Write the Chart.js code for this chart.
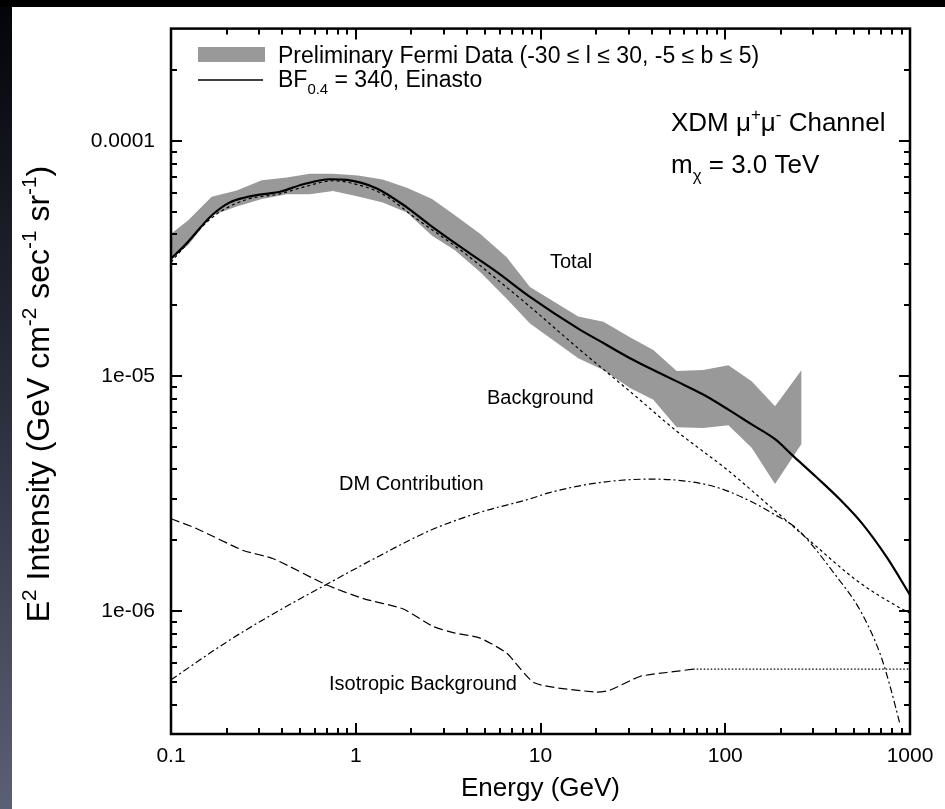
<!DOCTYPE html>
<html>
<head>
<meta charset="utf-8">
<script src="https://cdn.jsdelivr.net/npm/chart.js@4.4.1/dist/chart.umd.min.js"></script>
<style>
  html, body { margin: 0; padding: 0; background: #000; }
  #wrap { width: 945px; height: 809px; }
</style>
</head>
<body>
<div id="wrap"><canvas id="chart" width="945" height="809"></canvas></div>
<script>
const FONT = '"Liberation Sans", Arial, Helvetica, sans-serif';

// Preliminary Fermi data band (upper / lower edge)
const fermiE  = [0.1, 0.124, 0.166, 0.227, 0.310, 0.423, 0.565, 0.753, 1.03, 1.40, 1.89, 2.59, 3.44, 4.71, 6.56, 8.77, 16.0, 21.9, 30.5, 40.8, 54.6, 76.0, 104, 139, 186, 259];
const fermiHi = [4.02e-5, 4.59e-5, 5.78e-5, 6.15e-5, 6.80e-5, 6.98e-5, 7.25e-5, 7.25e-5, 7.11e-5, 6.84e-5, 6.32e-5, 5.65e-5, 4.82e-5, 4.02e-5, 3.20e-5, 2.39e-5, 1.79e-5, 1.70e-5, 1.46e-5, 1.29e-5, 1.05e-5, 1.06e-5, 1.11e-5, 9.48e-6, 7.43e-6, 1.06e-5];
const fermiLo = [3.15e-5, 3.60e-5, 4.81e-5, 5.26e-5, 5.65e-5, 5.93e-5, 5.93e-5, 6.12e-5, 5.80e-5, 5.47e-5, 4.96e-5, 3.95e-5, 3.42e-5, 2.77e-5, 2.13e-5, 1.67e-5, 1.19e-5, 1.06e-5, 8.88e-6, 7.92e-6, 6.05e-6, 6.01e-6, 6.17e-6, 4.95e-6, 3.47e-6, 5.15e-6];

// Total (BF = 340, Einasto)
const totalE = [0.1, 0.119, 0.166, 0.208, 0.252, 0.316, 0.389, 0.520, 0.726, 0.893, 1.30, 1.89, 2.52, 3.82, 5.79, 8.77, 16.0, 21.9, 30.5, 40.8, 54.6, 76.0, 104, 139, 186, 233, 314, 418, 550, 750, 1000];
const totalI = [3.15e-5, 3.6e-5, 4.81e-5, 5.47e-5, 5.74e-5, 5.93e-5, 6.07e-5, 6.53e-5, 6.86e-5, 6.82e-5, 6.27e-5, 5.21e-5, 4.38e-5, 3.47e-5, 2.77e-5, 2.17e-5, 1.59e-5, 1.38e-5, 1.19e-5, 1.06e-5, 9.48e-6, 8.33e-6, 7.19e-6, 6.22e-6, 5.38e-6, 4.57e-6, 3.69e-6, 2.98e-6, 2.36e-6, 1.69e-6, 1.17e-6];

// Background
const bgE = [0.1, 0.166, 0.252, 0.389, 0.52, 0.753, 1.03, 1.40, 2.14, 3.82, 6.04, 8.77, 16.0, 30.5, 54.6, 104, 186, 300, 514, 864, 1000];
const bgI = [3.05e-5, 4.7e-5, 5.6e-5, 5.95e-5, 6.35e-5, 6.76e-5, 6.5e-5, 5.93e-5, 4.65e-5, 3.36e-5, 2.51e-5, 1.97e-5, 1.31e-5, 8.59e-6, 5.82e-6, 3.95e-6, 2.67e-6, 1.93e-6, 1.35e-6, 1.04e-6, 9.8e-7];

// DM contribution
const dmE = [0.1, 0.208, 0.389, 0.697, 1.35, 2.52, 4.71, 8.77, 11.2, 21.0, 39.2, 59.3, 89.9, 136, 182, 244, 401, 536, 687, 780, 883];
const dmI = [5.1e-7, 7.53e-7, 1.01e-6, 1.30e-6, 1.72e-6, 2.20e-6, 2.63e-6, 3.0e-6, 3.19e-6, 3.52e-6, 3.64e-6, 3.58e-6, 3.36e-6, 2.94e-6, 2.59e-6, 2.24e-6, 1.40e-6, 1.01e-6, 6.62e-7, 4.79e-7, 3.3e-7];

// Isotropic background (measured, then flat extrapolation)
const isoE = [0.1, 0.138, 0.246, 0.358, 0.697, 1.10, 1.81, 2.63, 3.37, 4.71, 6.56, 9.33, 20.1, 23.8, 34.5, 48.2, 67.1];
const isoI = [2.47e-6, 2.24e-6, 1.81e-6, 1.67e-6, 1.29e-6, 1.13e-6, 1.02e-6, 8.59e-7, 8.10e-7, 7.67e-7, 6.62e-7, 4.94e-7, 4.52e-7, 4.61e-7, 5.27e-7, 5.48e-7, 5.66e-7];
const isoExtE = [67.1, 1000];
const isoExtI = [5.66e-7, 5.66e-7];

const xTicks = [0.1, 1, 10, 100, 1000];
const xTickLabels = ['0.1', '1', '10', '100', '1000'];
const yTicks = [1e-6, 1e-5, 1e-4];
const yTickLabels = ['1e-06', '1e-05', '0.0001'];

function pts(xs, ys) {
    return xs.map((x, i) => ({ x: x, y: ys[i] }));
}

function line(ctx, x1, y1, x2, y2) {
    ctx.beginPath();
    ctx.moveTo(x1, y1);
    ctx.lineTo(x2, y2);
    ctx.stroke();
}

// draws text made of normal / superscript / subscript pieces
function richText(ctx, x, y, parts, size, align) {
    const sizeOf = p => p[1] ? size * 0.65 : size;
    let w = 0;
    parts.forEach(p => {
        ctx.font = sizeOf(p) + 'px ' + FONT;
        w += ctx.measureText(p[0]).width;
    });
    let cx = align === 'center' ? x - w / 2 : x;
    parts.forEach(p => {
        ctx.font = sizeOf(p) + 'px ' + FONT;
        const dy = p[1] === 'sup' ? -size * 0.42 : p[1] === 'sub' ? size * 0.32 : 0;
        ctx.fillText(p[0], cx, y + dy);
        cx += ctx.measureText(p[0]).width;
    });
}

const decorations = {
    id: 'decorations',
    beforeDraw(chart) {
        const ctx = chart.ctx;
        const W = chart.width, H = chart.height;
        ctx.save();
        ctx.fillStyle = '#000';
        ctx.fillRect(0, 0, W, H);
        const g = ctx.createLinearGradient(0, 0, 0, H);
        g.addColorStop(0, '#030408');
        g.addColorStop(0.5, '#2b2e3d');
        g.addColorStop(1, '#5c6073');
        ctx.fillStyle = g;
        ctx.fillRect(0, 7, 12, H - 7);
        ctx.fillStyle = '#fff';
        ctx.fillRect(12, 7, W - 12, H - 7);
        ctx.restore();
    },
    afterDraw(chart) {
        const ctx = chart.ctx;
        const a = chart.chartArea;
        const xs = chart.scales.x, ys = chart.scales.y;
        ctx.save();
        ctx.strokeStyle = '#000';
        ctx.fillStyle = '#000';

        // inward ticks on all four sides
        ctx.lineWidth = 2;
        for (let d = -1; d < 3; d++) {
            for (let k = 1; k < 10; k++) {
                const v = k * Math.pow(10, d);
                const px = Math.round(xs.getPixelForValue(v));
                const len = k === 1 ? 11 : 6;
                line(ctx, px, a.bottom, px, a.bottom - len);
                line(ctx, px, a.top, px, a.top + len);
            }
        }
        for (let d = -7; d < -3; d++) {
            for (let k = 1; k < 10; k++) {
                const v = k * Math.pow(10, d);
                if (v < ys.min || v > ys.max) continue;
                const py = Math.round(ys.getPixelForValue(v));
                const len = k === 1 ? 11 : 6;
                line(ctx, a.left, py, a.left + len, py);
                line(ctx, a.right, py, a.right - len, py);
            }
        }
        ctx.lineWidth = 2.5;
        ctx.strokeRect(a.left, a.top, a.right - a.left, a.bottom - a.top);

        // legend
        ctx.fillStyle = '#999';
        ctx.fillRect(198, 47, 67, 15);
        ctx.lineWidth = 1.3;
        line(ctx, 198, 80, 263, 80);
        ctx.fillStyle = '#000';
        ctx.textBaseline = 'alphabetic';
        ctx.textAlign = 'left';
        ctx.font = '23px ' + FONT;
        ctx.fillText('Preliminary Fermi Data (-30 \u2264 l \u2264 30, -5 \u2264 b \u2264 5)', 278, 63);
        richText(ctx, 278, 87, [['BF'], ['0.4', 'sub'], [' = 340, Einasto']], 23);

        // channel info
        richText(ctx, 671, 131, [['XDM \u03bc'], ['+', 'sup'], ['\u03bc'], ['-', 'sup'], [' Channel']], 26);
        richText(ctx, 671, 173, [['m'], ['\u03c7', 'sub'], [' = 3.0 TeV']], 26);

        // curve labels
        ctx.font = '20px ' + FONT;
        ctx.fillText('Total', 550, 268);
        ctx.fillText('Background', 487, 404);
        ctx.fillText('DM Contribution', 339, 490);
        ctx.fillText('Isotropic Background', 329, 690);

        // y axis title
        ctx.translate(49, 394);
        ctx.rotate(-Math.PI / 2);
        richText(ctx, 0, 0, [['E'], ['2', 'sup'], [' Intensity (GeV cm'], ['-2', 'sup'], [' sec'], ['-1', 'sup'], [' sr'], ['-1', 'sup'], [')']], 32, 'center');
        ctx.restore();
    }
};

const lineDs = (label, xs, ys, opts) => Object.assign({
    label: label,
    data: pts(xs, ys),
    showLine: true,
    pointRadius: 0,
    borderColor: '#000',
    borderWidth: 1.2,
    fill: false,
    order: 1
}, opts);

new Chart(document.getElementById('chart'), {
    type: 'scatter',
    data: {
        datasets: [
            lineDs('Total', totalE, totalI, { borderWidth: 2.2, cubicInterpolationMode: 'monotone' }),
            lineDs('Background', bgE, bgI, { borderDash: [3, 3], cubicInterpolationMode: 'monotone' }),
            lineDs('DM Contribution', dmE, dmI, { borderDash: [7, 3, 2, 3], cubicInterpolationMode: 'monotone' }),
            lineDs('Isotropic Background', isoE, isoI, { borderDash: [9, 4], tension: 0.2 }),
            lineDs('Isotropic extrapolation', isoExtE, isoExtI, { borderDash: [1.5, 2] }),
            lineDs('Fermi upper', fermiE, fermiHi, { borderWidth: 0, order: 5 }),
            lineDs('Fermi lower', fermiE, fermiLo, { borderWidth: 0, order: 5, fill: '-1', backgroundColor: '#999' })
        ]
    },
    options: {
        responsive: false,
        animation: false,
        events: [],
        layout: { padding: { left: 0, top: 25, right: 35, bottom: 0 } },
        plugins: {
            legend: { display: false },
            tooltip: { enabled: false }
        },
        scales: {
            x: {
                type: 'logarithmic',
                min: 0.1,
                max: 1000,
                grid: { display: false, drawTicks: false },
                border: { display: false },
                afterBuildTicks: s => { s.ticks = xTicks.map(v => ({ value: v })); },
                afterFit: s => { s.height = 75; },
                ticks: {
                    callback: (v, i) => xTickLabels[i],
                    font: { family: FONT, size: 21 },
                    color: '#000',
                    padding: 10,
                    maxRotation: 0,
                    autoSkip: false
                },
                title: {
                    display: true,
                    text: 'Energy (GeV)',
                    font: { family: FONT, size: 26 },
                    color: '#000',
                    padding: { top: 0, bottom: 5 }
                }
            },
            y: {
                type: 'logarithmic',
                min: 3e-7,
                max: 3e-4,
                grid: { display: false, drawTicks: false },
                border: { display: false },
                afterBuildTicks: s => { s.ticks = yTicks.map(v => ({ value: v })); },
                afterFit: s => { s.width = 171; },
                ticks: {
                    callback: (v, i) => yTickLabels[i],
                    font: { family: FONT, size: 21 },
                    color: '#000',
                    padding: 16,
                    autoSkip: false
                }
            }
        }
    },
    plugins: [decorations]
});
</script>
</body>
</html>
